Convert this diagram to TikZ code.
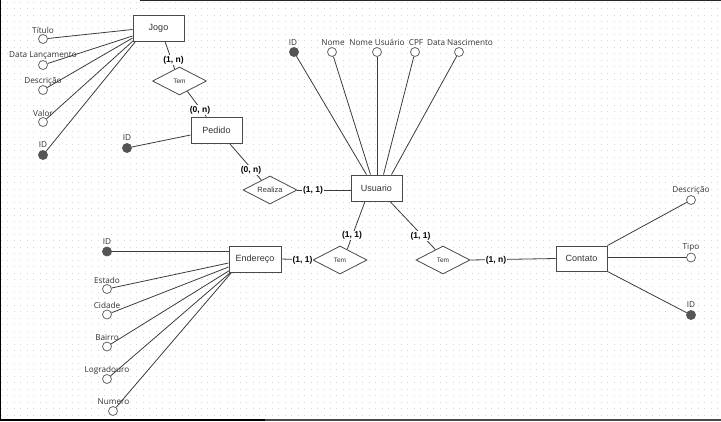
\documentclass[tikz,border=0pt]{standalone}
\usepackage{fontspec}
\setmainfont{Liberation Sans}
\newfontfamily\attrfont{Open Sans}
\usetikzlibrary{shapes.geometric,backgrounds}
\definecolor{linec}{HTML}{3C3C3C}
\definecolor{boxc}{HTML}{4A4A4A}
\definecolor{textc}{HTML}{333333}
\definecolor{keyc}{HTML}{555555}
\definecolor{circc}{HTML}{666666}
\definecolor{griddot}{HTML}{D8D8D8}
\tikzset{
  entity/.style={draw=boxc, fill=white, line width=0.9pt, minimum width=51pt, minimum height=26pt, inner sep=0pt, font=\fontsize{9}{10}\selectfont, text=textc},
  relbox/.style={diamond, draw=boxc, fill=white, line width=0.8pt, minimum width=54pt, minimum height=28pt, inner sep=0pt, aspect=2, text=textc},
  attrc/.style={circle, draw=circc, fill=white, line width=0.8pt, minimum size=9pt, inner sep=0pt},
  keyattr/.style={circle, draw=keyc, fill=keyc, line width=0.8pt, minimum size=9pt, inner sep=0pt},
  alabel/.style={font=\attrfont\fontsize{8.2}{9}\selectfont, text=textc, inner sep=0pt},
  card/.style={font=\bfseries\fontsize{8.5}{9}\selectfont, fill=white, inner sep=1pt, text=black},
  conn/.style={draw=linec, line width=0.8pt}
}
\begin{document}
\begin{tikzpicture}[x=1pt,y=-1pt]
\useasboundingbox (0,0) rectangle (721,421);

% entities
\node[entity] (jogo) at (158.5,28) {Jogo};
\node[entity] (pedido) at (216.5,130) {Pedido};
\node[entity] (usuario) at (376.5,188) {Usuario};
\node[entity, minimum width=52pt] (endereco) at (255,259) {Endereço};
\node[entity, minimum height=25pt] (contato) at (581.5,258.5) {Contato};

% relationships
\node[relbox, font=\fontsize{6.5}{7}\selectfont] (tem1) at (179.5,81) {Tem};
\node[relbox, font=\fontsize{7.5}{8}\selectfont] (realiza) at (270,190) {Realiza};
\node[relbox, font=\fontsize{6.5}{7}\selectfont] (tem2) at (340,260) {Tem};
\node[relbox, font=\fontsize{6.5}{7}\selectfont] (tem3) at (443,260) {Tem};

% Jogo attributes
\node[attrc] (jTitulo) at (43,39) {};
\node[attrc] (jData) at (43,65) {};
\node[attrc] (jDesc) at (43,90) {};
\node[attrc] (jValor) at (43,122) {};
\node[keyattr] (jID) at (43,155) {};
\node[alabel] (tjTitulo) at (43,30) {Título};
\node[alabel] (tjData) at (43,56) {Data Lançamento};
\node[alabel] (tjDesc) at (43,81) {Descrição};
\node[alabel] (tjValor) at (43,113) {Valor};
\node[alabel] (tjID) at (43,145) {ID};

% Pedido attribute
\node[keyattr] (pID) at (127,148) {};
\node[alabel] (tpID) at (127,138) {ID};

% Usuario attributes
\node[keyattr] (uID) at (294,52) {};
\node[attrc] (uNome) at (332,52) {};
\node[attrc] (uNomeU) at (377,52) {};
\node[attrc] (uCPF) at (415,52) {};
\node[attrc] (uData) at (459,52) {};
\node[alabel] (tuID) at (293,42.5) {ID};
\node[alabel] (tuNome) at (333,42.5) {Nome};
\node[alabel] (tuNomeU) at (377,42.5) {Nome Usuário};
\node[alabel] (tuCPF) at (416,42.5) {CPF};
\node[alabel] (tuData) at (460,42.5) {Data Nascimento};

% Endereco attributes
\node[keyattr] (eID) at (107,251.5) {};
\node[attrc] (eEstado) at (107,289) {};
\node[attrc] (eCidade) at (107,314.5) {};
\node[attrc] (eBairro) at (107,346.5) {};
\node[attrc] (eLogr) at (107,379) {};
\node[attrc] (eNum) at (113,411) {};
\node[alabel] (teID) at (107,241.5) {ID};
\node[alabel] (teEstado) at (107,280) {Estado};
\node[alabel] (teCidade) at (107,305.5) {Cidade};
\node[alabel] (teBairro) at (107,337.5) {Bairro};
\node[alabel] (teLogr) at (107,370) {Logradouro};
\node[alabel] (teNum) at (113.5,401.5) {Numero};

% Contato attributes
\node[attrc] (cDesc) at (691,200) {};
\node[attrc] (cTipo) at (691,257.5) {};
\node[keyattr] (cID) at (691,315) {};
\node[alabel] (tcDesc) at (691,190) {Descrição};
\node[alabel] (tcTipo) at (691,247.5) {Tipo};
\node[alabel] (tcID) at (691,305) {ID};

% cardinality labels
\node[card] (k1) at (173.5,60) {(1, n)};
\node[card] (k2) at (200,110) {(0, n)};
\node[card] (k3) at (251,170) {(0, n)};
\node[card] (k4) at (313,190) {(1, 1)};
\node[card] (k5) at (352,235.5) {(1, 1)};
\node[card] (k6) at (420.5,236) {(1, 1)};
\node[card] (k7) at (302.5,260) {(1, 1)};
\node[card] (k8) at (496,260) {(1, n)};

\begin{pgfonlayer}{background}
  % dotted grid
  \foreach \i in {0,...,111}{
    \foreach \j in {0,...,64}{
      \fill[griddot] (1.0+6.45*\i,1.7+6.45*\j) rectangle ++(0.9,0.9);
    }
  }
  % frame
  \fill[black] (0,0) rectangle (1.3,421);
  \fill[black] (0,418.6) rectangle (265,421);
  \fill[black!72] (265,418.6) rectangle (721,421);
  \fill[black!85] (140,0) rectangle (721,0.7);

  % Jogo attribute connectors
  \draw[conn] (jTitulo) -- ([yshift=-1.5pt]jogo.west);
  \draw[conn] (jData) -- ([yshift=-8pt]jogo.west);
  \draw[conn] (jDesc) -- ([yshift=-10pt]jogo.west);
  \draw[conn] (jValor) -- ([xshift=1pt,yshift=1pt]jogo.south west);
  \draw[conn] (jID) -- ([xshift=3pt]jogo.south west);

  % Pedido attribute
  \draw[conn] (pID) -- ([yshift=-5pt]pedido.west);

  % Usuario attributes
  \draw[conn] (uID) -- ([xshift=-10pt]usuario.north);
  \draw[conn] (uNome) -- ([xshift=-6pt]usuario.north);
  \draw[conn] (uNomeU) -- (uNomeU |- usuario.north);
  \draw[conn] (uCPF) -- ([xshift=7pt]usuario.north);
  \draw[conn] (uData) -- ([xshift=15pt]usuario.north);

  % Endereco attributes
  \draw[conn] (eID) -- (eID -| endereco.west);
  \draw[conn] (eEstado) -- ([yshift=-4pt]endereco.west);
  \draw[conn] (eCidade) -- ([yshift=-8pt]endereco.west);
  \draw[conn] (eBairro) -- ([xshift=1pt,yshift=2pt]endereco.south west);
  \draw[conn] (eLogr) -- ([xshift=2pt]endereco.south west);
  \draw[conn] (eNum) -- ([xshift=3pt]endereco.south west);

  % Contato attributes
  \draw[conn] (cDesc) -- (contato.north east);
  \draw[conn] (cTipo) -- (cTipo -| contato.east);
  \draw[conn] (cID) -- (contato.south east);

  % relationships
  \draw[conn] ([xshift=6.5pt]jogo.south) -- (tem1.112);
  \draw[conn] (tem1) -- (pedido);
  \draw[conn] ([xshift=13pt]pedido.south) -- (realiza);
  \draw[conn] (realiza.east) -- (realiza.east -| usuario.west);
  \draw[conn] ([xshift=-11.5pt]usuario.south) -- (tem2.56);
  \draw[conn] ([xshift=13.5pt]usuario.south) -- (tem3.126);
  \draw[conn] (endereco.east) -- (tem2.west);
  \draw[conn] (tem3.east) -- (contato.west);
\end{pgfonlayer}
\end{tikzpicture}
\end{document}
